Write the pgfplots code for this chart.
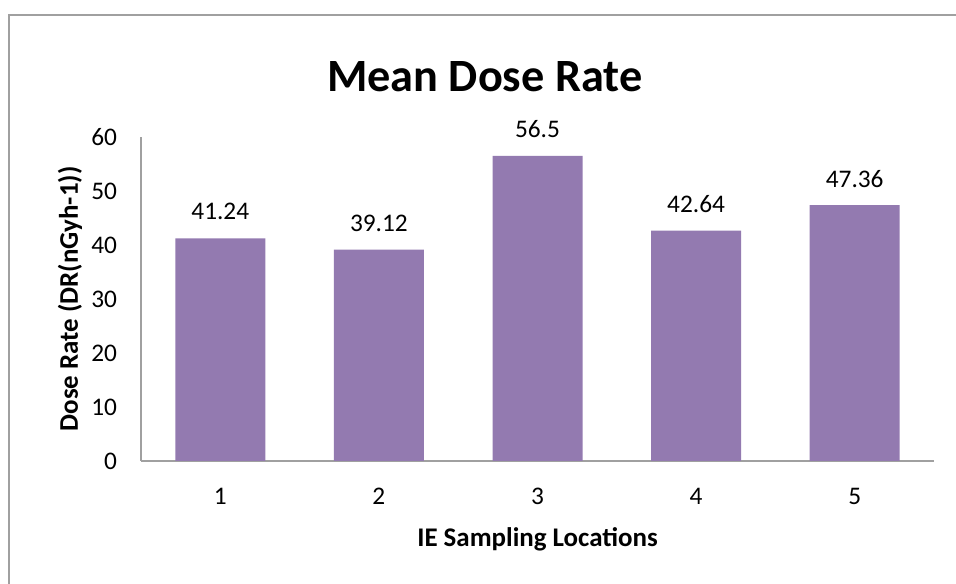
\documentclass[border=0pt]{standalone}
\usepackage{pgfplots}
\pgfplotsset{compat=1.18}
\usepackage{fontspec}
\setmainfont{Carlito}
\definecolor{barcol}{HTML}{937AB0}
\definecolor{axgray}{HTML}{A0A0A0}
\begin{document}
\begin{tikzpicture}
\useasboundingbox (0,0) rectangle (717pt,438pt);
\draw[axgray, line width=1.5pt] (7.1pt,0) -- (7.1pt,427.1pt) -- (717pt,427.1pt);
\node[font=\fontsize{34.7}{40}\selectfont\bfseries] at (363.5pt,380.25pt) {Mean Dose Rate};
\begin{axis}[
  at={(105.75pt,92.25pt)}, anchor=south west,
  scale only axis, width=594.75pt, height=243pt,
  xmin=0.5, xmax=5.5, ymin=0, ymax=60,
  xtick={1,2,3,4,5}, ytick={0,10,...,60},
  major tick length=0pt,
  axis x line*=bottom, axis y line*=left,
  axis line style={axgray, line width=1.1pt, -},
  /pgf/number format/assume math mode=true,
  ticklabel style={font=\fontsize{19}{22}\selectfont},
  yticklabel style={xshift=-14.5pt},
  xticklabel style={yshift=-17pt},
  xlabel={IE Sampling Locations},
  ylabel={Dose Rate (DR(nGyh-1))},
  every axis x label/.style={at={(axis description cs:0.5,0)}, anchor=center, yshift=-58.5pt, font=\fontsize{20.2}{24}\selectfont\bfseries},
  every axis y label/.style={at={(axis description cs:0,0.5)}, anchor=center, rotate=90, yshift=53.25pt, font=\fontsize{20.2}{24}\selectfont\bfseries},
  ybar, bar width=67.5pt,
  nodes near coords,
  nodes near coords style={font=\fontsize{19}{22}\selectfont, anchor=center, yshift=20pt, text=black},
  clip=false,
]
\addplot[fill=barcol, draw=none] coordinates {(1,41.24) (2,39.12) (3,56.5) (4,42.64) (5,47.36)};
\end{axis}
\end{tikzpicture}
\end{document}
